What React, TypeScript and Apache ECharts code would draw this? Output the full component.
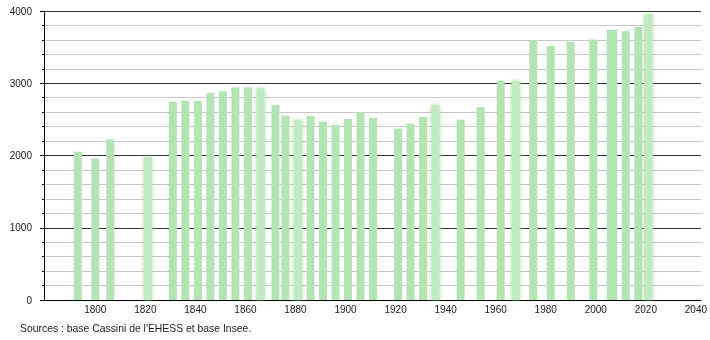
import React, { useEffect, useRef } from "react";
import * as echarts from "echarts";

const years = [1793, 1800, 1806, 1821, 1831, 1836, 1841, 1846, 1851, 1856, 1861, 1866, 1872, 1876, 1881, 1886, 1891, 1896, 1901, 1906, 1911, 1921, 1926, 1931, 1936, 1946, 1954, 1962, 1968, 1975, 1982, 1990, 1999, 2006, 2007, 2012, 2017, 2021];
const population = [2053, 1960, 2224, 1984, 2745, 2759, 2754, 2870, 2890, 2944, 2944, 2930, 2699, 2549, 2487, 2547, 2468, 2422, 2505, 2597, 2519, 2371, 2441, 2533, 2704, 2496, 2671, 3033, 3031, 3599, 3516, 3576, 3604, 3737, 3740, 3721, 3779, 3950];
const blurredYears = [1821, 1866, 1881, 1936, 1968, 2021];
const xTickLabels = [1800, 1820, 1840, 1860, 1880, 1900, 1920, 1940, 1960, 1980, 2000, 2020, 2040];
const sourceText = "Sources : base Cassini de l'EHESS et base Insee.";

export default function App() {
  const ref = useRef<HTMLDivElement>(null);
  useEffect(() => {
    document.body.style.margin = "0";
    const chart = echarts.init(ref.current!, null, { renderer: "svg" });
    const green = "#b3e4b3";
    const data = years.map((y, i) => {
      const blurred = blurredYears.includes(y);
      return {
        value: [y, population[i]],
        itemStyle: blurred
          ? { color: "#c2eac2", shadowBlur: 4, shadowColor: "rgba(160,220,160,0.9)" }
          : { color: green },
      };
    });
    chart.setOption({
      animation: false,
      grid: { left: 44, right: 9, top: 11, bottom: 40 },
      xAxis: {
        type: "value",
        min: 1779.5,
        max: 2042,
        axisLine: { show: true, lineStyle: { color: "#000", width: 1 } },
        axisTick: { show: false },
        splitLine: { show: false },
        axisLabel: {
          customValues: xTickLabels,
          color: "#222",
          fontSize: 10,
          fontFamily: "Liberation Sans, Arial, sans-serif",
          margin: 4,
          formatter: (v: number) => String(v),
        },
      },
      yAxis: {
        type: "value",
        min: 0,
        max: 4000,
        interval: 1000,
        axisLine: { show: true, lineStyle: { color: "#000", width: 1 } },
        axisTick: { show: true, length: 4, lineStyle: { color: "#000" } },
        minorTick: { show: true, splitNumber: 5, length: 2, lineStyle: { color: "#000" } },
        splitLine: { show: true, lineStyle: { color: "#333", width: 1 } },
        minorSplitLine: { show: true, lineStyle: { color: "#c8c8c8", width: 1 } },
        axisLabel: {
          color: "#222",
          fontSize: 10,
          fontFamily: "Liberation Sans, Arial, sans-serif",
          margin: 12,
          formatter: (v: number) => String(v),
        },
      },
      series: [
        {
          type: "bar",
          barWidth: 8,
          data,
        },
      ],
      graphic: [
        {
          type: "text",
          left: 20,
          top: 323,
          style: {
            text: sourceText,
            fill: "#222",
            fontSize: 10.4,
            fontFamily: "Liberation Sans, Arial, sans-serif",
          },
        },
      ],
    });
    return () => chart.dispose();
  }, []);
  return <div ref={ref} style={{ position: "fixed", left: 0, top: 0, width: 710, height: 340 }} />;
}
